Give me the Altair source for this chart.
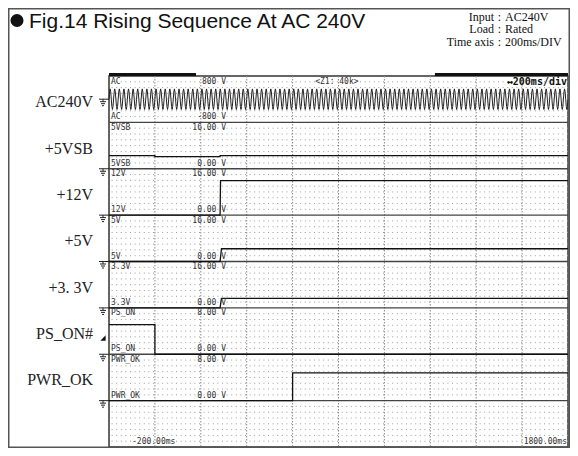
import altair as alt
import pandas as pd

# ------------------------------------------------------------------ data
T_MIN, T_MAX = -200, 1800          # ms, time window of the scope
N_DIV_Y = 8                        # vertical divisions (one per panel)

panel_names = ["AC", "5VSB", "12V", "5V", "3.3V", "PS_ON", "PWR_OK"]
side_labels = ["AC240V", "+5VSB", "+12V", "+5V", "+3. 3V", "PS_ON#", "PWR_OK"]
panel_lo = [-800, 0, 0, 0, 0, 0, 0]
panel_hi = [800, 16, 16, 16, 16, 8, 8]
top_texts = ["800 V", "16.00 V", "16.00 V", "16.00 V", "16.00 V", "8.00 V", "8.00 V"]
bottom_texts = ["-800 V", "0.00 V", "0.00 V", "0.00 V", "0.00 V", "0.00 V", "0.00 V"]

# AC input: one cycle (V), repeated for the 50 Hz line
ac_cycle_v = [0, 250, 355, 250, 0, -250, -355, -250]
ac_period_ms = 20
ac_cycle_count = 100

# step traces (time ms, volts)
vsb_t = [-200, 0, 0, 284, 284, 1800]
vsb_v = [4.5, 4.5, 4.2, 4.2, 4.5, 4.5]
v12_t = [-200, 284, 286, 1800]
v12_v = [0, 0, 11.9, 11.9]
v5_t = [-200, 284, 290, 1800]
v5_v = [0, 0, 4.4, 4.4]
v33_t = [-200, 284, 290, 1800]
v33_v = [0, 0, 3.3, 3.3]
pson_t = [-200, 0, 0, 1800]
pson_v = [5.1, 5.1, 0, 0]
pwrok_t = [-200, 600, 600, 1800]
pwrok_v = [0, 0, 4.8, 4.8]

time_ticks = [0, 200, 400, 600, 800, 1000, 1200, 1400, 1600]
trigger_level_v = 2.8
top_bar_start = [-200, 1220]
top_bar_end = [179, 1800]

title_text = "Fig.14  Rising Sequence At AC 240V"
info_keys = ["Input", "Load", "Time axis"]
info_vals = ["AC240V", "Rated", "200ms/DIV"]

# ------------------------------------------------------------------ helpers
def to_div(p, v):
    return (N_DIV_Y - 1 - p) + (v - panel_lo[p]) / (panel_hi[p] - panel_lo[p])

rows = []
ac_samples = ac_cycle_v * ac_cycle_count + [ac_cycle_v[0]]
dt = ac_period_ms / len(ac_cycle_v)
for k, v in enumerate(ac_samples):
    rows.append({"ch": "AC", "i": k, "t": T_MIN + k * dt, "y": to_div(0, v)})
ac_df = pd.DataFrame(rows)

step_series = [(1, vsb_t, vsb_v), (2, v12_t, v12_v), (3, v5_t, v5_v),
               (4, v33_t, v33_v), (5, pson_t, pson_v), (6, pwrok_t, pwrok_v)]
rows = []
for p, ts, vs in step_series:
    for k, (t, v) in enumerate(zip(ts, vs)):
        rows.append({"ch": panel_names[p], "i": k, "t": t, "y": to_div(p, v)})
step_df = pd.DataFrame(rows)

xs = alt.Scale(domain=[T_MIN, T_MAX], nice=False, zero=False)
ys = alt.Scale(domain=[0, N_DIV_Y], nice=False, zero=False)
X = lambda f="t": alt.X(f + ":Q", scale=xs, axis=None)
Y = lambda f="y": alt.Y(f + ":Q", scale=ys, axis=None)

one = pd.DataFrame({"a": [0]})

# grid
grid_rows = pd.DataFrame({"y": [p + k / 8 for p in range(N_DIV_Y) for k in range(1, 8)]})
grid = alt.Chart(grid_rows).mark_rule(color="#9a9a9a", strokeWidth=1, strokeDash=[1, 3.6]).encode(y=Y())
vgrid = alt.Chart(pd.DataFrame({"t": time_ticks})).mark_rule(
    color="#8a8a8a", strokeWidth=1, strokeDash=[1.5, 1.5]).encode(x=X())
dividers = alt.Chart(pd.DataFrame({"y": list(range(1, N_DIV_Y))})).mark_rule(
    color="#444", strokeWidth=1.3).encode(y=Y())

topbar = alt.Chart(pd.DataFrame({"t": top_bar_start, "t2": top_bar_end, "y": [N_DIV_Y] * 2})).mark_rule(
    color="#111", strokeWidth=3, yOffset=-1.5).encode(x=X(), x2="t2:Q", y=Y())

# traces
ac_line = alt.Chart(ac_df).mark_line(color="#222", strokeWidth=1).encode(
    x=X(), y=Y(), order="i:Q")
step_lines = alt.Chart(step_df).mark_line(color="#111", strokeWidth=1.3, interpolate="linear").encode(
    x=X(), y=Y(), detail="ch:N", order="i:Q")

# scope texts
mono = "DejaVu Sans Mono"
txt_color = "#333"
names_df = pd.DataFrame({"t": [T_MIN] * 7, "ytop": [N_DIV_Y - p for p in range(7)],
                         "ybot": [N_DIV_Y - 1 - p for p in range(7)], "name": panel_names,
                         "vt": top_texts, "vb": bottom_texts, "tv": [310] * 7})
name_top = alt.Chart(names_df).mark_text(align="left", baseline="top", dx=2, dy=1.5, font=mono,
                                         fontSize=8, color=txt_color).encode(x=X(), y=Y("ytop"), text="name:N")
name_bot = alt.Chart(names_df).mark_text(align="left", baseline="bottom", dx=2, dy=-1, font=mono,
                                         fontSize=8, color=txt_color).encode(x=X(), y=Y("ybot"), text="name:N")
val_top = alt.Chart(names_df).mark_text(align="right", baseline="top", dy=1.5, font=mono,
                                        fontSize=8, color=txt_color).encode(x=X("tv"), y=Y("ytop"), text="vt:N")
val_bot = alt.Chart(names_df).mark_text(align="right", baseline="bottom", dy=-1, font=mono,
                                        fontSize=8, color=txt_color).encode(x=X("tv"), y=Y("ybot"), text="vb:N")
zoom_txt = alt.Chart(pd.DataFrame({"t": [793], "y": [N_DIV_Y], "s": ["<Z1: 40k>"]})).mark_text(
    align="center", baseline="top", dy=1.5, font=mono, fontSize=8, color=txt_color).encode(
    x=X(), y=Y(), text="s:N")
tdiv_txt = alt.Chart(pd.DataFrame({"t": [T_MAX], "y": [N_DIV_Y], "s": ["↔200ms/div"]})).mark_text(
    align="right", baseline="top", dx=-1, dy=1, font=mono, fontSize=10, fontWeight="bold",
    color="#111").encode(x=X(), y=Y(), text="s:N")
tleft_txt = alt.Chart(pd.DataFrame({"t": [T_MIN], "y": [0], "s": ["-200.00ms"]})).mark_text(
    align="left", baseline="bottom", dx=23, dy=-1, font=mono, fontSize=8, color=txt_color).encode(
    x=X(), y=Y(), text="s:N")
tright_txt = alt.Chart(pd.DataFrame({"t": [T_MAX], "y": [0], "s": ["1800.00ms"]})).mark_text(
    align="right", baseline="bottom", dx=-1, dy=-1, font=mono, fontSize=8, color=txt_color).encode(
    x=X(), y=Y(), text="s:N")

# side labels
side_df = pd.DataFrame({"y": [N_DIV_Y - 0.5 - p for p in range(7)], "s": side_labels})
side = alt.Chart(side_df).mark_text(align="right", baseline="middle", dy=3, font="Liberation Serif",
                                    fontSize=16, color="#222").encode(
    x=alt.value(-16), y=Y(), text="s:N")

# ground markers (zero levels)
gnd_df = pd.DataFrame({"y": [to_div(0, 0), to_div(1, 0), to_div(2, 0), to_div(3, 0),
                             to_div(4, 0), to_div(5, 0), to_div(6, 0)]})
gnd_parts = []
for (x1, x2, off) in [(-10, 0, 0), (-9, -3, 2.5), (-8, -4, 4.5), (-7, -5, 6.5)]:
    gnd_parts.append(alt.Chart(gnd_df).mark_rule(color="#222", strokeWidth=1, yOffset=off).encode(
        x=alt.value(x1), x2=alt.value(x2), y=Y()))
gnd_parts.append(alt.Chart(gnd_df).mark_rule(color="#222", strokeWidth=1, yOffset=0, y2Offset=2.5).encode(
    x=alt.value(-6), y=Y(), y2="y:Q"))

trig_df = pd.DataFrame({"y": [to_div(5, trigger_level_v)]})
trig = alt.Chart(trig_df).mark_point(shape="M -1 1 L 1 1 L 1 -1 Z", size=28, filled=True,
                                     color="#111", opacity=1).encode(x=alt.value(-6), y=Y())

# header
bullet = alt.Chart(one).mark_point(shape="circle", size=170, filled=True, color="#111", opacity=1).encode(
    x=alt.value(-92), y=alt.value(-55.5))
title = alt.Chart(pd.DataFrame({"s": [title_text]})).mark_text(
    align="left", baseline="alphabetic", font="Liberation Sans", fontSize=21, color="#111").encode(
    x=alt.value(-80), y=alt.value(-48), text="s:N")
info_df = pd.DataFrame({"k": info_keys, "v": info_vals, "py": [-59.5, -47, -34.5]})
info_k = alt.Chart(info_df).mark_text(align="right", baseline="middle", font="Liberation Serif",
                                      fontSize=12, color="#111").encode(
    x=alt.value(385), y=alt.Y("py:Q", scale=None, axis=None), text="k:N")
info_c = alt.Chart(info_df).mark_text(align="center", baseline="middle", font="Liberation Serif",
                                      fontSize=12, color="#111").encode(
    x=alt.value(390.5), y=alt.Y("py:Q", scale=None, axis=None), text=alt.value(":"))
info_v = alt.Chart(info_df).mark_text(align="left", baseline="middle", font="Liberation Serif",
                                      fontSize=12, color="#111").encode(
    x=alt.value(396), y=alt.Y("py:Q", scale=None, axis=None), text="v:N")

border = alt.Chart(one).mark_rect(filled=False, stroke="#555", strokeWidth=1.5).encode(
    x=alt.value(-100.25), x2=alt.value(460.25), y=alt.value(-67.25), y2=alt.value(371.25))

chart = alt.layer(
    grid, vgrid, dividers, ac_line, step_lines, topbar,
    name_top, name_bot, val_top, val_bot, zoom_txt, tdiv_txt, tleft_txt, tright_txt,
    side, *gnd_parts, trig, bullet, title, info_k, info_c, info_v, border,
).resolve_scale(y="independent").properties(
    width=459, height=371,
    padding={"left": 101, "top": 68, "right": 2, "bottom": 1},
    autosize=alt.AutoSizeParams(type="none"),
    background="white",
).configure_view(stroke="#333", strokeWidth=1.5)

chart.save("out.html", embed_options={"renderer": "svg", "actions": False})
